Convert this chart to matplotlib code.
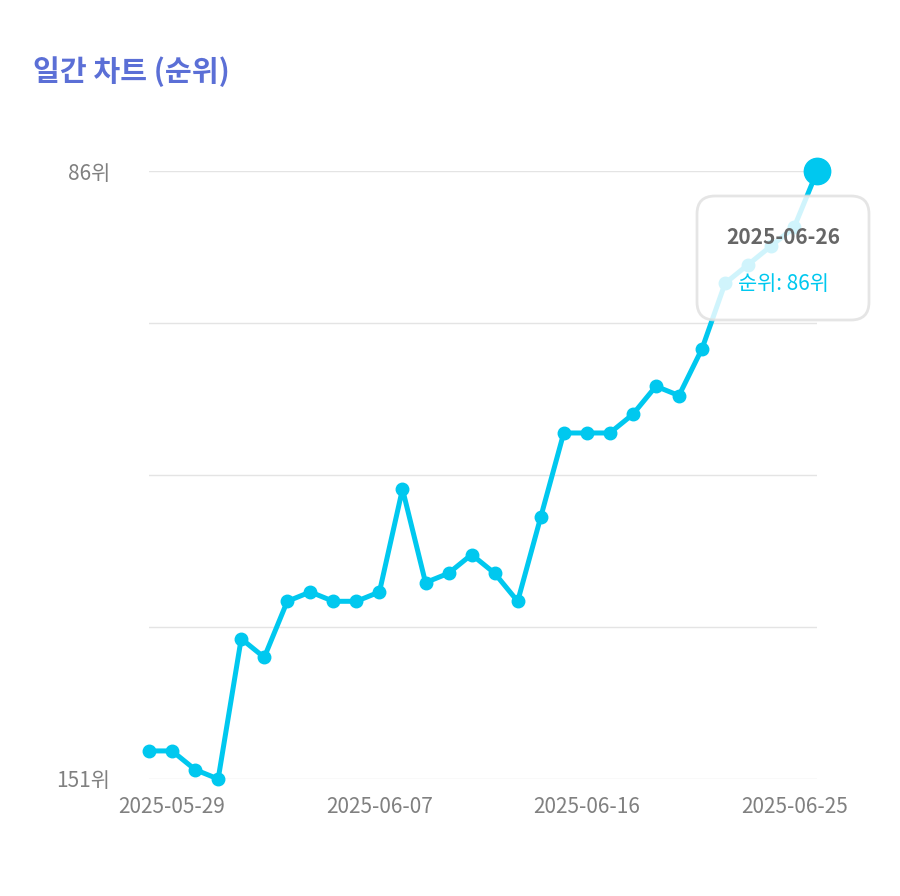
import matplotlib.pyplot as plt
import matplotlib.dates as mdates
from matplotlib.patches import FancyBboxPatch
import pandas as pd

plt.rcParams['font.family'] = ['Noto Sans CJK KR']

# --- DATA ---
START_DATE = '2025-05-28'
ranks = [148, 148, 150, 151, 136, 138, 132, 131, 132, 132,
         131, 120, 130, 129, 127, 129, 132, 123, 114, 114,
         114, 112, 109, 110, 105, 98, 96, 94, 92, 86]
tick_dates = ['2025-05-29', '2025-06-07', '2025-06-16', '2025-06-25']
y_ticks = [86, 151]
dates = pd.date_range(START_DATE, periods=len(ranks), freq='D')

LINE_C = '#00c8ef'
GRID_C = '#e4e4e4'

fig = plt.figure(figsize=(9, 8.96), dpi=100)
ax = fig.add_axes([0.1656, 0.1306, 0.908 - 0.1656, 0.809 - 0.1306])

ax.plot(dates, ranks, color=LINE_C, lw=3.6, marker='o', ms=9, clip_on=False, zorder=3)
ax.plot(dates[-1], ranks[-1], 'o', color=LINE_C, ms=19, clip_on=False, zorder=4)

ax.set_xlim(dates[0], dates[-1])
ax.set_ylim(151, 86)
for y in [86, 102.25, 118.5, 134.75, 151]:
    ax.axhline(y, color=GRID_C, lw=1, zorder=1)

ax.set_yticks(y_ticks)
ax.set_yticklabels([f'{v}위' for v in y_ticks], fontsize=15, color='#808080')
ax.set_xticks(pd.to_datetime(tick_dates))
ax.xaxis.set_major_formatter(mdates.DateFormatter('%Y-%m-%d'))
ax.tick_params(axis='x', labelsize=15, colors='#808080', length=0, pad=12)
ax.tick_params(axis='y', length=0, pad=28)
for s in ax.spines.values():
    s.set_visible(False)

# tooltip
box = FancyBboxPatch((697 / 900, 1 - 320 / 896), 172 / 900, 124 / 896,
                     boxstyle='round,pad=0,rounding_size=0.02',
                     transform=fig.transFigure, facecolor='white', alpha=0.82,
                     edgecolor='#e0e0e0', lw=2, zorder=10)
fig.add_artist(box)
fig.text(783 / 900, 1 - 238 / 896, '2025-06-26', ha='center', va='center',
         fontsize=15, fontweight='bold', color='#666666', zorder=11)
fig.text(783 / 900, 1 - 284 / 896, f'순위: {ranks[-1]}위', ha='center', va='center',
         fontsize=15, color=LINE_C, zorder=11)

fig.text(33 / 900, 1 - 72 / 896, '일간 차트 (순위)', ha='left', va='center',
         fontsize=21, fontweight='bold', color='#5b6fd6')

fig.savefig('out.png', dpi=100)
